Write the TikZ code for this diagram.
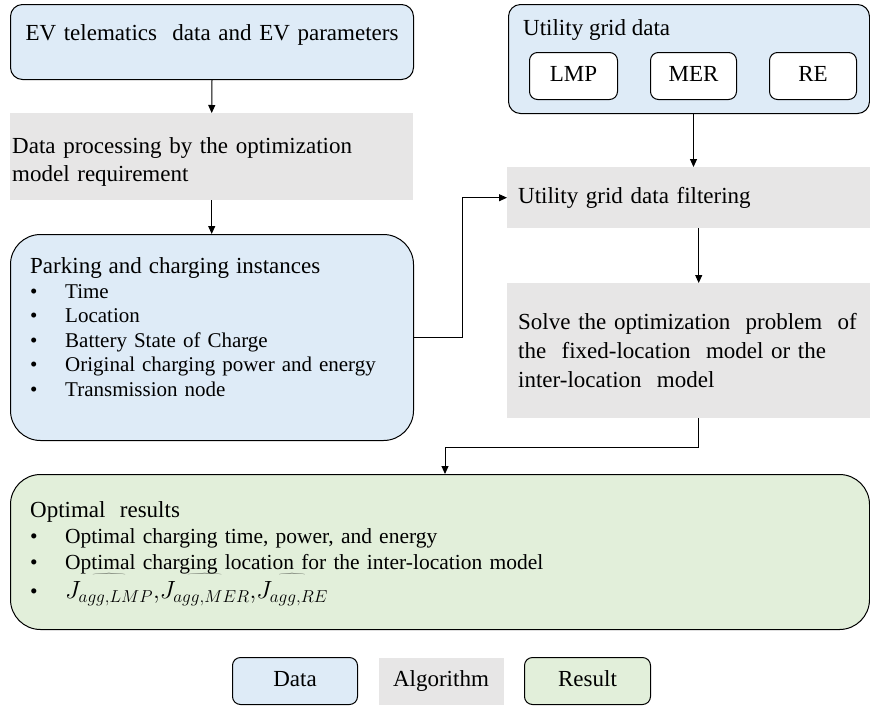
\documentclass[tikz,border=0pt]{standalone}
\usepackage{amsmath}
\usepackage{fontspec}
\setmainfont{Liberation Serif}
\usetikzlibrary{arrows.meta}

\definecolor{datablue}{HTML}{DEEBF7}
\definecolor{alggray}{HTML}{E7E6E6}
\definecolor{resgreen}{HTML}{E2EFDA}

\newcommand{\itm}[1]{\makebox[35pt][l]{\textbullet}#1}
\newcommand{\jagg}[2]{\overset{\raisebox{-5pt}{\resizebox{#2}{5pt}{$\widehat{\hphantom{xxxx}}$}}}{J_{agg{,}#1}}}

\begin{document}
\begin{tikzpicture}[x=1pt,y=-1pt,
	databox/.style={draw, line width=1pt, fill=datablue, rounded corners=12pt, anchor=north west, align=left, inner ysep=0pt},
	algbox/.style={fill=alggray, anchor=north west, align=left, inner ysep=0pt},
	resbox/.style={draw, line width=1pt, fill=resgreen, rounded corners=30pt, anchor=north west, inner sep=0pt},
	listtext/.style={anchor=base west, align=left, inner sep=0pt},
	keybox/.style={draw, line width=1pt, rounded corners=8pt, anchor=north west, inner sep=0pt, text height=15pt, text depth=5pt, font=\fontsize{23}{28}\selectfont},
	arr/.style={line width=1pt, -{Triangle[length=8pt,width=7pt]}},
	font=\fontsize{23}{28}\selectfont]

	\useasboundingbox (0,0) rectangle (870,705);

	% left column
	\node[databox, minimum height=75pt, text width=373pt, inner xsep=15pt, text depth=19pt] (telem) at (10,4) {EV telematics\ \ data and EV parameters};
	\node[algbox, minimum height=87pt, text width=399pt, inner xsep=2pt, text depth=23pt] (proc) at (10,113) {Data processing by the optimization\\model requirement};
	\node[databox, rounded corners=30pt, minimum width=403pt, minimum height=206pt, inner sep=0pt] (park) at (10,234) {};
	\node[listtext, text width=363pt, font=\fontsize{21}{24.6}\selectfont] (parktxt) at (30,273)
		{{\fontsize{23}{27}\selectfont Parking and charging instances}\\[0.4pt]
		\itm{Time}\\ \itm{Location}\\ \itm{Battery State of Charge}\\
		\itm{Original charging power and energy}\\ \itm{Transmission node}};

	% right column
	\node[databox, minimum width=361pt, minimum height=109pt, inner sep=0pt] (grid) at (508,4) {};
	\node[anchor=base west, inner sep=0pt] (gridtitle) at (523,35) {Utility grid data};
	\node[keybox, fill=white, minimum width=88pt, minimum height=47pt] (lmp) at (529,52) {LMP};
	\node[keybox, fill=white, minimum width=86pt, minimum height=47pt] (mer) at (650,52) {MER};
	\node[keybox, fill=white, minimum width=87pt, minimum height=47pt] (re) at (769,52) {RE};

	\node[algbox, minimum height=61pt, text width=350pt, inner xsep=11pt] (filt) at (507,167) {Utility grid data filtering};
	\node[algbox, minimum height=135pt, text width=350pt, inner xsep=11pt, font=\fontsize{23}{29}\selectfont] (solve) at (507,283)
		{Solve the optimization\ \ problem\ \ of\\the\ \ fixed-location\ \ model or the\\inter-location\ \ model};

	% results
	\node[resbox, minimum width=859pt, minimum height=155pt] (res) at (10,474) {};
	\node[listtext, text width=819pt, font=\fontsize{21.5}{25.5}\selectfont] (restxt) at (30,517)
		{{\fontsize{23}{27}\selectfont Optimal\ \ results}\\[1pt]
		\itm{Optimal charging time, power, and energy}\\
		\itm{Optimal charging location for the inter-location model}\\[4pt]
		\itm{\fontsize{24}{25}\selectfont\smash{$\jagg{LMP}{50pt}{,}\jagg{MER}{52pt}{,}\jagg{RE}{40pt}$}}};

	% legend
	\node[keybox, fill=datablue, minimum width=125pt, minimum height=47pt] (keydata) at (232,657) {Data};
	\node[keybox, draw=none, rounded corners=0pt, fill=alggray, minimum width=125pt, minimum height=47pt] (keyalg) at (378,657) {Algorithm};
	\node[keybox, fill=resgreen, minimum width=126pt, minimum height=47pt] (keyres) at (524,657) {Result};

	% connectors
	\coordinate (drop) at (445,447);
	\draw[arr] (telem.south) -- (proc.north);
	\draw[arr] (proc.south) -- (proc.south |- park.north);
	\draw[arr] (park.east) -- ([xshift=48pt]park.east) |- (filt.west);
	\draw[arr] ([xshift=4.5pt]grid.south) -- ([xshift=4.5pt]grid.south |- filt.north);
	\draw[arr] ([xshift=5.5pt]filt.south) -- ([xshift=5.5pt]solve.north);
	\draw[arr] ([xshift=5.5pt]solve.south) |- (drop) -- (drop |- res.north);
\end{tikzpicture}
\end{document}
